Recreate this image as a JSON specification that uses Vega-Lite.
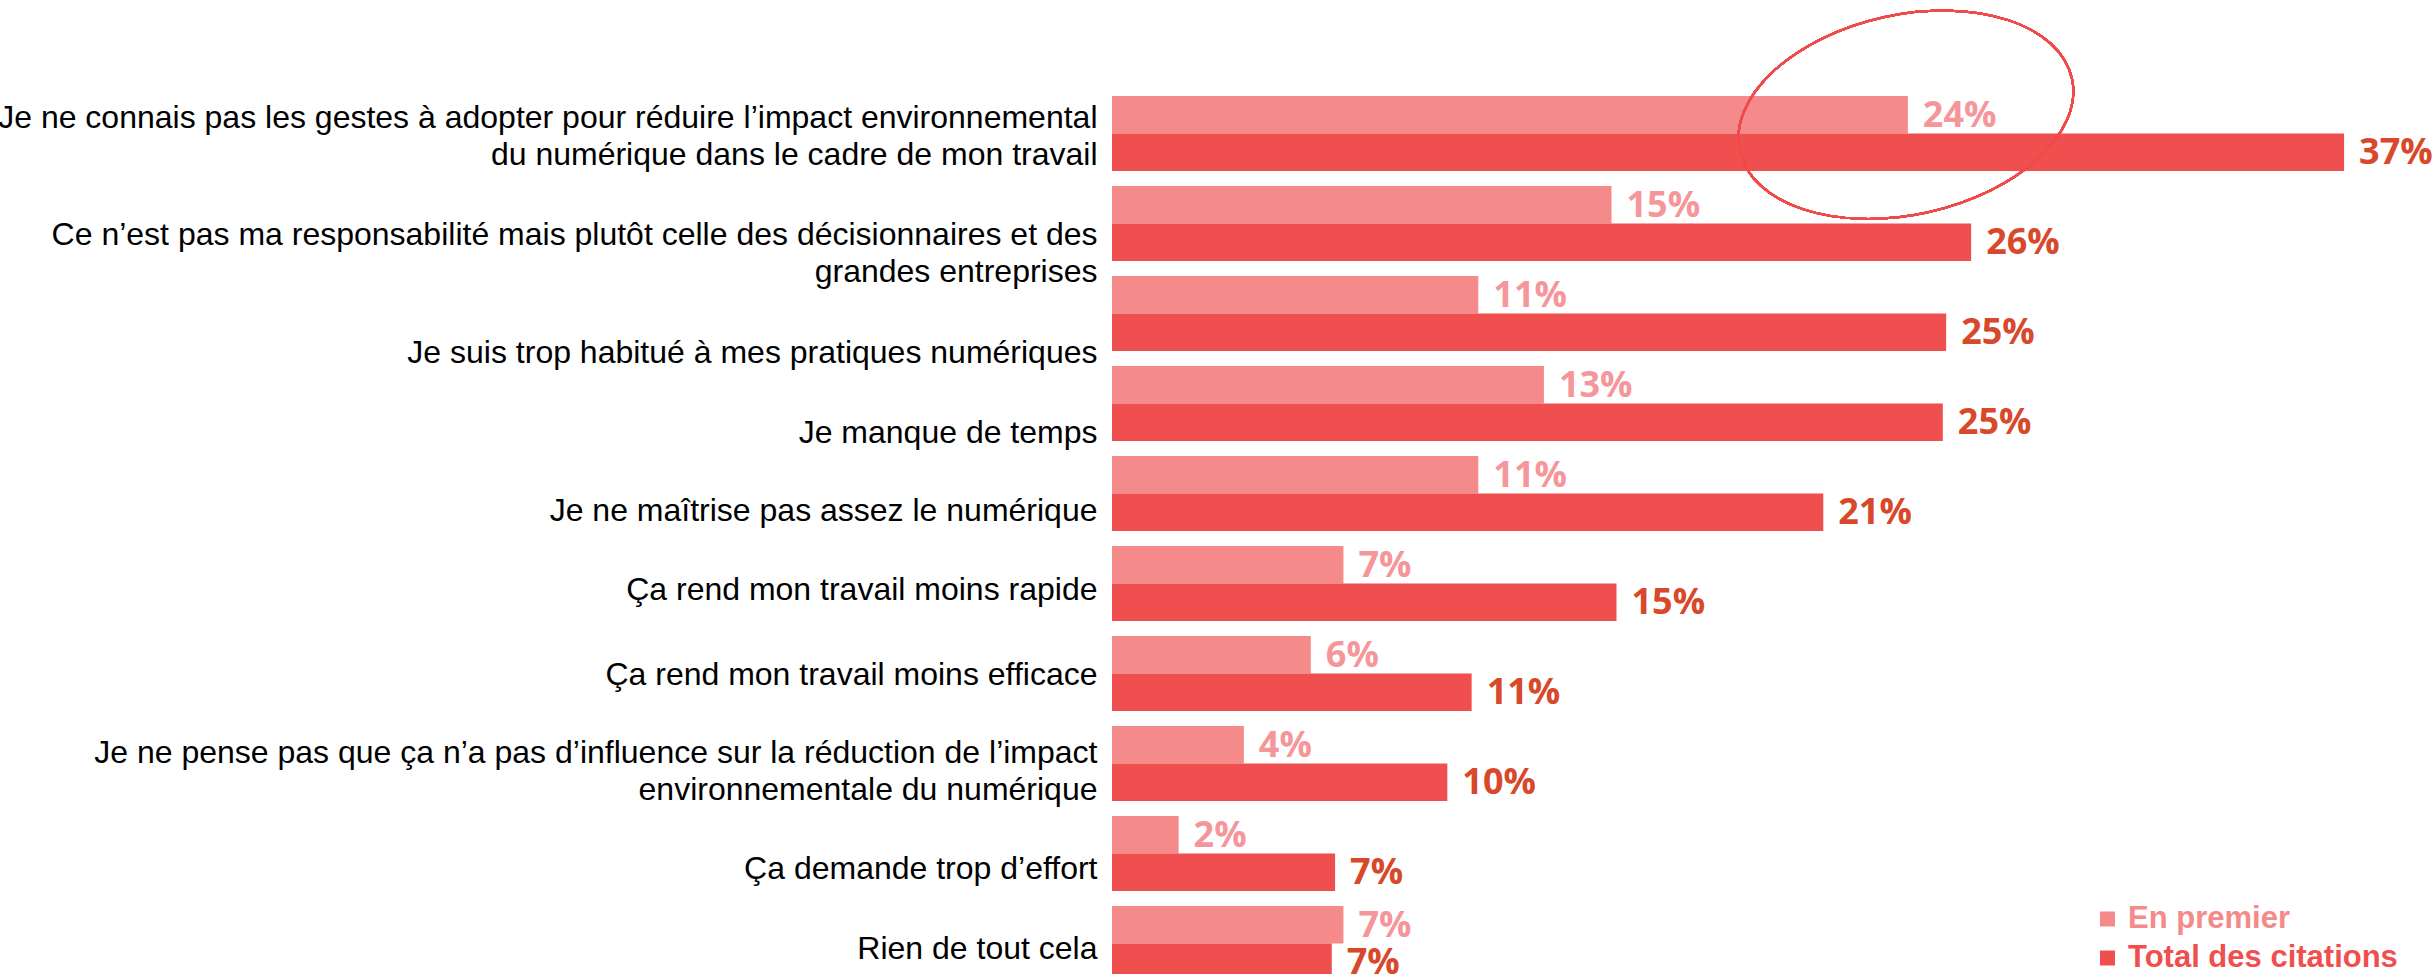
{
  "$schema": "https://vega.github.io/schema/vega-lite/v6.json",
  "autosize": {"type": "none"},
  "padding": {"left": 1112, "top": 88.5, "right": 0, "bottom": 0},
  "width": 1323,
  "height": 900,
  "background": "white",
  "config": {"view": {"stroke": null}},
  "data": {"values": [
    {"item": "Je ne connais pas les gestes à adopter pour réduire l’impact environnemental|du numérique dans le cadre de mon travail", "serie": "En premier", "pct": 23.9, "label": "24%"},
    {"item": "Je ne connais pas les gestes à adopter pour réduire l’impact environnemental|du numérique dans le cadre de mon travail", "serie": "Total des citations", "pct": 37.0, "label": "37%"},
    {"item": "Ce n’est pas ma responsabilité mais plutôt celle des décisionnaires et des|grandes entreprises", "serie": "En premier", "pct": 15.0, "label": "15%"},
    {"item": "Ce n’est pas ma responsabilité mais plutôt celle des décisionnaires et des|grandes entreprises", "serie": "Total des citations", "pct": 25.8, "label": "26%"},
    {"item": "Je suis trop habitué à mes pratiques numériques", "serie": "En premier", "pct": 11.0, "label": "11%"},
    {"item": "Je suis trop habitué à mes pratiques numériques", "serie": "Total des citations", "pct": 25.05, "label": "25%"},
    {"item": "Je manque de temps", "serie": "En premier", "pct": 12.97, "label": "13%"},
    {"item": "Je manque de temps", "serie": "Total des citations", "pct": 24.95, "label": "25%"},
    {"item": "Je ne maîtrise pas assez le numérique", "serie": "En premier", "pct": 11.0, "label": "11%"},
    {"item": "Je ne maîtrise pas assez le numérique", "serie": "Total des citations", "pct": 21.36, "label": "21%"},
    {"item": "Ça rend mon travail moins rapide", "serie": "En premier", "pct": 6.95, "label": "7%"},
    {"item": "Ça rend mon travail moins rapide", "serie": "Total des citations", "pct": 15.15, "label": "15%"},
    {"item": "Ça rend mon travail moins efficace", "serie": "En premier", "pct": 5.97, "label": "6%"},
    {"item": "Ça rend mon travail moins efficace", "serie": "Total des citations", "pct": 10.8, "label": "11%"},
    {"item": "Je ne pense pas que ça n’a pas d’influence sur la réduction de l’impact|environnementale du numérique", "serie": "En premier", "pct": 3.96, "label": "4%"},
    {"item": "Je ne pense pas que ça n’a pas d’influence sur la réduction de l’impact|environnementale du numérique", "serie": "Total des citations", "pct": 10.07, "label": "10%"},
    {"item": "Ça demande trop d’effort", "serie": "En premier", "pct": 2.0, "label": "2%"},
    {"item": "Ça demande trop d’effort", "serie": "Total des citations", "pct": 6.7, "label": "7%"},
    {"item": "Rien de tout cela", "serie": "En premier", "pct": 6.95, "label": "7%"},
    {"item": "Rien de tout cela", "serie": "Total des citations", "pct": 6.6, "label": "7%"}
  ]},
  "encoding": {
    "y": {
      "field": "item", "type": "nominal", "sort": null, "title": null,
      "scale": {"paddingInner": 0.1667, "paddingOuter": 0.0833},
      "axis": {
        "domain": false, "ticks": false, "grid": false,
        "labelExpr": "split(datum.value, '|')",
        "labelFont": "Arial, Liberation Sans", "labelFontSize": 32, "labelColor": "#000000",
        "labelLineHeight": 37, "labelPadding": 15, "labelLimit": 1300, "labelAlign": "right", "labelBaseline": "middle",
        "labelOffset": {
          "condition": [
            {"test": "indexof(datum.value, 'Ce n’est pas') == 0", "value": 11.5},
            {"test": "indexof(datum.value, 'Je suis trop') == 0", "value": 40},
            {"test": "indexof(datum.value, 'Je manque') == 0", "value": 29.5},
            {"test": "indexof(datum.value, 'Je ne maîtrise') == 0", "value": 18},
            {"test": "indexof(datum.value, 'Ça rend mon travail moins rapide') == 0", "value": 6.5},
            {"test": "indexof(datum.value, 'Ça rend mon travail moins efficace') == 0", "value": 1.5},
            {"test": "indexof(datum.value, 'Je ne pense pas') == 0", "value": -11},
            {"test": "indexof(datum.value, 'Ça demande') == 0", "value": 15.5},
            {"test": "indexof(datum.value, 'Rien') == 0", "value": 5.5}
          ],
          "value": -15
        }
      }
    },
    "yOffset": {"field": "serie", "type": "nominal", "sort": ["En premier", "Total des citations"], "scale": {"paddingInner": 0, "paddingOuter": 0}}
  },
  "layer": [
    {
      "mark": {"type": "bar"},
      "encoding": {
        "x": {"field": "pct", "type": "quantitative", "scale": {"domain": [0, 39.73], "nice": false}, "axis": null},
        "color": {
          "field": "serie", "type": "nominal",
          "scale": {"domain": ["En premier", "Total des citations"], "range": ["#F48A8A", "#F04F4F"]},
          "legend": {
            "title": null, "orient": "none", "legendX": 980, "legendY": 815,
            "symbolType": "square", "symbolSize": 225, "symbolStrokeWidth": 0,
            "labelFont": "Arial, Liberation Sans", "labelFontWeight": "bold", "labelFontSize": 31,
            "labelOffset": 5, "rowPadding": 7, "padding": 0,
            "labelLimit": 600,
            "encode": {"labels": {"update": {"fill": {"signal": "datum.value == 'En premier' ? '#F48A8A' : '#F04F4F'"}}}}
          }
        }
      }
    },
    {
      "mark": {"type": "text", "align": "left", "baseline": "middle", "dx": 15, "dy": 1, "font": "Open Sans", "fontWeight": "bold", "fontSize": 36},
      "encoding": {
        "x": {"field": "pct", "type": "quantitative"},
        "text": {"field": "label"},
        "color": {"condition": {"test": "datum.serie == 'En premier'", "value": "#F5969B"}, "value": "#D8482B"}
      }
    },
    {
      "mark": {
        "type": "point",
        "shape": "M 0.977 -0.213 C 1.046 0.104 0.665 0.457 0.125 0.575 C -0.414 0.692 -0.908 0.53 -0.977 0.213 C -1.046 -0.104 -0.665 -0.457 -0.125 -0.575 C 0.414 -0.692 0.908 -0.53 0.977 -0.213 Z",
        "size": 115600, "filled": false, "stroke": "#EE4B4B", "strokeWidth": 2, "opacity": 1
      },
      "encoding": {
        "x": {"datum": 23.84, "type": "quantitative"},
        "y": {"datum": "Je ne connais pas les gestes à adopter pour réduire l’impact environnemental|du numérique dans le cadre de mon travail", "type": "nominal"},
        "yOffset": {"datum": "En premier", "type": "nominal"}
      }
    }
  ]
}
